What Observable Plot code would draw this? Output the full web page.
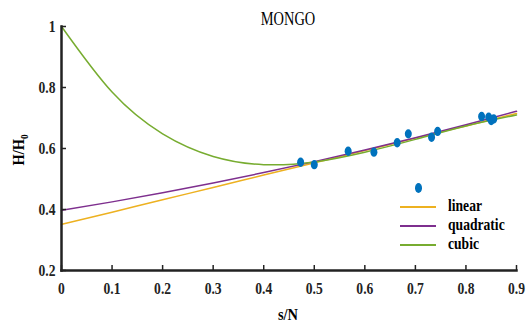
<!DOCTYPE html>
<html><head><meta charset="utf-8">
<script src="https://cdn.jsdelivr.net/npm/d3@7"></script>
<script src="https://cdn.jsdelivr.net/npm/@observablehq/plot@0.6"></script>
<style>
body{margin:0;background:#fff;}
#wrap{position:relative;width:529px;height:326px;overflow:hidden;}
.t{position:absolute;font-family:"Liberation Serif","Times New Roman",serif;white-space:nowrap;color:#000;line-height:1;}
.sw{position:absolute;height:2px;}
</style></head><body><div id="wrap"></div>
<script>
// ---- data ----
const titleText = "MONGO";
const xLabel = "s/N";
const sampleX = [0.473, 0.500, 0.567, 0.618, 0.664, 0.686, 0.732, 0.744, 0.831, 0.845, 0.850, 0.855];
const sampleY = [0.555, 0.547, 0.591, 0.588, 0.619, 0.648, 0.637, 0.656, 0.705, 0.703, 0.692, 0.697];
const fitX = [0, 0.1, 0.2, 0.3, 0.4, 0.5, 0.6, 0.7, 0.8, 0.9];
const linearY = [0.351, 0.391, 0.432, 0.472, 0.513, 0.553, 0.593, 0.634, 0.674, 0.715];
const quadraticY = [0.397, 0.425, 0.455, 0.487, 0.521, 0.557, 0.595, 0.635, 0.678, 0.722];
const cubicY = [1.000, 0.785, 0.648, 0.574, 0.547, 0.556, 0.588, 0.630, 0.674, 0.710];
const seriesNames = ["linear", "quadratic", "cubic"];
const xTicks = [0, 0.1, 0.2, 0.3, 0.4, 0.5, 0.6, 0.7, 0.8, 0.9];
const xTickLabels = ["0", "0.1", "0.2", "0.3", "0.4", "0.5", "0.6", "0.7", "0.8", "0.9"];
const yTicks = [0.2, 0.4, 0.6, 0.8, 1];
const yTickLabels = ["0.2", "0.4", "0.6", "0.8", "1"];

// ---- build tables ----
const points = sampleX.map((x, i) => ({x, y: sampleY[i]}));
const fits = [linearY, quadraticY, cubicY];
const curves = [];
seriesNames.forEach((name, s) => fitX.forEach((x, i) => curves.push({series: name, x, y: fits[s][i]})));

const colors = ["#EDB120", "#7E2F8E", "#77AC30"];
const dotColor = "#0072BD";
const RX = 3.5, RY = 4.7;

const ellipse = {
  draw(ctx) {
    const rx = RX, ry = RY, k = 0.5523;
    ctx.moveTo(rx, 0);
    ctx.bezierCurveTo(rx, ry * k, rx * k, ry, 0, ry);
    ctx.bezierCurveTo(-rx * k, ry, -rx, ry * k, -rx, 0);
    ctx.bezierCurveTo(-rx, -ry * k, -rx * k, -ry, 0, -ry);
    ctx.bezierCurveTo(rx * k, -ry, rx, -ry * k, rx, 0);
    ctx.closePath();
  }
};

const chart = Plot.plot({
  width: 529,
  height: 326,
  marginLeft: 61,
  marginRight: 13,
  marginTop: 26,
  marginBottom: 56,
  style: {fontFamily: "'Liberation Serif','Times New Roman',serif", fontSize: "17px", fontWeight: "bold", background: "#fff", overflow: "visible"},
  x: {domain: [0, 0.9]},
  y: {domain: [0.2, 1]},
  color: {domain: seriesNames, range: colors},
  marks: [
    Plot.line(curves, {x: "x", y: "y", z: "series", stroke: "series", curve: "natural", strokeWidth: 1.5}),
    Plot.dot(points, {x: "x", y: "y", symbol: ellipse, fill: dotColor, stroke: null, r: 4}),
    Plot.frame({anchor: "left", strokeWidth: 2.5, stroke: "#222"}),
    Plot.frame({anchor: "bottom", strokeWidth: 2.5, stroke: "#222"}),
    Plot.axisX(xTicks, {tickSize: -5, tickPadding: 16, strokeWidth: 1.5, stroke: "#222", tickFormat: (d, i) => xTickLabels[i], label: null, fill: "#222"}),
    Plot.axisY(yTicks, {tickSize: -5, tickPadding: 11, strokeWidth: 1.5, stroke: "#222", tickFormat: (d, i) => yTickLabels[i], label: null, fill: "#222"})
  ]
});

const wrap = document.getElementById("wrap");
wrap.appendChild(chart);

// condense tick labels horizontally like the reference
d3.select(chart).selectAll("text").each(function () {
  const t = this.getAttribute("transform") || "";
  this.setAttribute("transform", t + " scale(0.8,1)");
});

function addText(html, left, top, opts = {}) {
  const d = document.createElement("div");
  d.className = "t";
  d.innerHTML = html;
  d.style.left = left + "px";
  d.style.top = top + "px";
  d.style.fontSize = (opts.size || 16) + "px";
  d.style.fontWeight = opts.weight || "bold";
  d.style.transform = opts.transform || "scaleX(0.85)";
  d.style.transformOrigin = opts.origin || "0 0";
  wrap.appendChild(d);
  return d;
}

// title
addText(titleText, 288, 10, {size: 18, weight: "normal", transform: "translateX(-50%) scaleX(0.8)", origin: "50% 0"});
// x label
addText(xLabel, 288, 306, {size: 17, transform: "translateX(-50%) scaleX(0.85)", origin: "50% 0"});
// y label (rotated)
addText("H/H<sub style='font-size:11px'>0</sub>", 20, 150, {size: 17, transform: "translate(-50%,-50%) rotate(-90deg) scaleX(0.85)", origin: "50% 50%"});

// legend
const legendX = 400, legendTop = 188, rowH = 19;
const dot = document.createElement("div");
dot.style.cssText = `position:absolute;left:${legendX + 18 - RX}px;top:${legendTop - RY}px;width:${2 * RX}px;height:${2 * RY}px;border-radius:50%;background:${dotColor}`;
wrap.appendChild(dot);
seriesNames.forEach((name, i) => {
  const y = legendTop + rowH * (i + 1);
  const sw = document.createElement("div");
  sw.className = "sw";
  sw.style.cssText += `left:${legendX}px;top:${y - 1}px;width:36px;background:${colors[i]}`;
  wrap.appendChild(sw);
  addText(name, legendX + 48, y - 10, {size: 17, transform: "scaleX(0.8)"});
});
</script>
</body></html>
